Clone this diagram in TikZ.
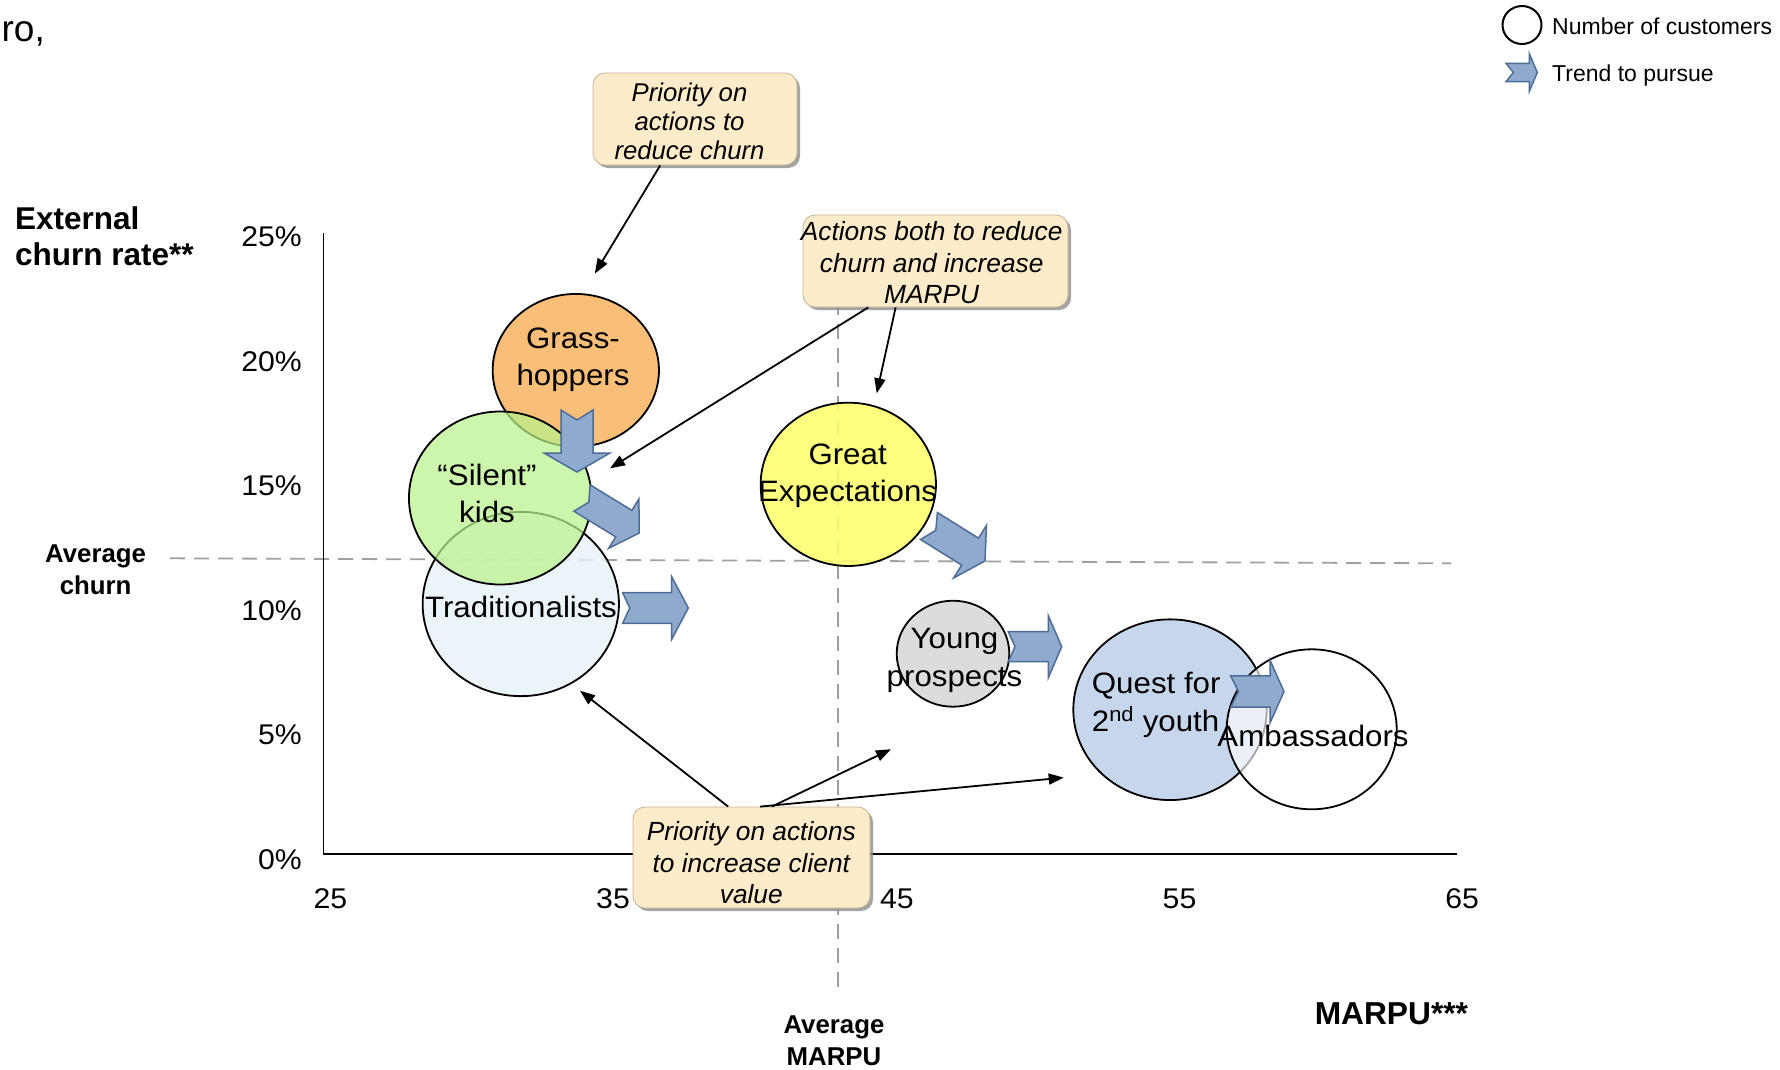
\documentclass[tikz,border=0pt]{standalone}
\usepackage{fontspec}
\setmainfont{Liberation Sans}
\newfontfamily\widesf{Liberation Sans}[FakeStretch=1.06]
\usetikzlibrary{arrows.meta,shapes.geometric,shadows,calc}

\definecolor{ghfill}{RGB}{249,190,120}
\definecolor{skfill}{RGB}{185,242,140}
\definecolor{trfill}{RGB}{232,242,248}
\definecolor{gefill}{RGB}{255,255,105}
\definecolor{ypfill}{RGB}{220,220,220}
\definecolor{qufill}{RGB}{198,214,236}
\definecolor{trendfill}{RGB}{143,170,204}
\definecolor{trendline}{RGB}{78,108,152}
\definecolor{calloutfill}{RGB}{253,235,202}
\definecolor{calloutline}{RGB}{196,178,150}
\definecolor{avggray}{RGB}{160,160,160}

\tikzset{
  bubble/.style={ellipse, draw=black, line width=1.8pt, inner sep=0pt},
  bubtext/.style={inner sep=0pt, align=center, anchor=base,
    font=\widesf\fontsize{29.5}{37.5}\selectfont},
  trendshape/.style={fill=trendfill, draw=trendline, line width=1.5pt},
  callout/.style={rounded corners=12pt, fill=calloutfill, draw=calloutline,
    line width=0.8pt, inner sep=0pt,
    drop shadow={shadow xshift=3pt, shadow yshift=-3pt, fill=black!45, opacity=0.8}},
  callouttext/.style={inner sep=0pt, align=center, anchor=base,
    font=\itshape\fontsize{26.3}{31.3}\selectfont},
  pointer/.style={line width=1.8pt, -{Triangle[length=15pt,width=11pt]}},
  avgline/.style={draw=avggray, line width=1.8pt, dash pattern=on 15pt off 9pt},
  axisline/.style={draw=black, line width=1.6pt},
  ticklabel/.style={inner sep=0pt, font=\widesf\fontsize{28.5}{34}\selectfont},
  axlabel/.style={inner sep=0pt, align=center, anchor=base,
    font=\bfseries\fontsize{25.8}{31.6}\selectfont},
  legendtext/.style={inner sep=0pt, anchor=base west,
    font=\fontsize{23}{28}\selectfont},
}

% notched block arrow: tail centre x, y, angle, length, head length,
% body half width, head half width, notch depth
\newcommand{\trendarrow}[8]{%
  \draw[trendshape, shift={(#1,#2)}, rotate=#3]
    (0,#6) -- ({#4-#5},#6) -- ({#4-#5},#7) -- (#4,0) -- ({#4-#5},-#7)
    -- ({#4-#5},-#6) -- (0,-#6) -- (#8,0) -- cycle;}

\begin{document}
\begin{tikzpicture}[x=1pt,y=-1pt]
\useasboundingbox (0,0) rectangle (1780,1069);

% clipped heading fragment
\node[inner sep=0pt, anchor=base east, font=\fontsize{37}{42}\selectfont] (head) at (45,41.7) {ro,};

% average lines
\coordinate (hl0) at (170,558.3);
\coordinate (hl1) at (1451,563.3);
\draw[avgline] (hl0) -- (hl1);
\coordinate (vl0) at (838,300);
\coordinate (vl1) at (838,988);
\draw[avgline] (vl0) -- (vl1);

% axes
\coordinate (O) at (323.5,853.7);
\coordinate (ytop) at (323.5,233);
\coordinate (xend) at (1456.5,853.7);
\draw[axisline] (ytop) -- (O) -- (xend);

\foreach \v/\b in {25/246.7,20/371.2,15/495.7,10/620.2,5/744.7,0/869.2}
  \node[ticklabel, anchor=base east] (y\v) at (302,\b) {\v\%};
\foreach \v/\x in {25/330.3,35/613,45/896.8,55/1179.5,65/1462.1}
  \node[ticklabel, anchor=base] (x\v) at (\x,908) {\v};

% axis titles (multi-line nodes are placed by their last baseline)
\node[inner sep=0pt, anchor=base west, align=left,
      font=\bfseries\fontsize{31.5}{35.7}\selectfont] (ylab) at (15,265) {External\\churn rate**};
\node[axlabel] (avgc) at (95.6,594.3) {Average\\churn};
\node[axlabel, font=\bfseries\fontsize{25.8}{32.5}\selectfont] (avgm) at (834,1065.5) {Average\\MARPU};
\node[inner sep=0pt, anchor=base west,
      font=\bfseries\fontsize{31.7}{36}\selectfont] (xlab) at (1314.6,1024) {MARPU***};

% segment bubbles
\node[bubble, fill=ghfill, minimum width=166.3pt, minimum height=152.7pt] (gh) at (575.8,370.3) {};
\node[bubble, fill=trfill, fill opacity=0.85, minimum width=196.3pt, minimum height=184.3pt] (tr) at (520.8,604) {};
\node[bubble, fill=skfill, fill opacity=0.72, minimum width=182.5pt, minimum height=173pt] (sk) at (500.2,498) {};
\node[bubble, fill=gefill, fill opacity=0.85, minimum width=175.3pt, minimum height=163.3pt] (ge) at (848.3,484.3) {};
\node[bubble, fill=ypfill, minimum width=112.6pt, minimum height=106pt] (yp) at (953,653.7) {};
\node[bubble, fill=qufill, minimum width=193.4pt, minimum height=180.7pt] (qu) at (1170,709.7) {};
\node[bubble, fill=white, fill opacity=0.65, minimum width=170pt, minimum height=160pt] (am) at (1311.7,729.3) {};

\node[bubtext] (ghl) at (573,385.8) {Grass-\\hoppers};
\node[bubtext] (skl) at (487,522.7) {“Silent”\\kids};
\node[bubtext] (trl) at (521,617.3) {Traditionalists};
\node[bubtext] (gel) at (847.6,501.7) {Great\\Expectations};
\node[bubtext] (ypl) at (954.5,686) {Young\\prospects};
\node[bubtext, anchor=base west, align=left] (qul) at (1091.7,731) {Quest for\\2\textsuperscript{nd} youth};
\node[bubtext] (aml) at (1313,746.7) {Ambassadors};

% trends
\trendarrow{577}{410}{-90}{62}{19}{16}{33}{10}
\trendarrow{582}{498}{-31.5}{67}{18}{15.5}{29}{8}
\trendarrow{622.7}{608}{0}{65.6}{16.6}{15.3}{31.3}{7}
\trendarrow{929}{526}{-32}{66}{17.6}{15.9}{31}{8}
\trendarrow{1008.3}{646.7}{0}{53.4}{13.4}{15}{31}{6.7}
\trendarrow{1230.7}{691.5}{0}{53.3}{14}{15.7}{31.3}{7.7}

% call-outs
\node[callout, minimum width=204pt, minimum height=92pt] (c1) at (695,119) {};
\node[callouttext, font=\itshape\fontsize{25.7}{29}\selectfont] (c1t) at (689.5,159.7) {Priority on\\actions to\\reduce churn};
\node[callout, minimum width=265pt, minimum height=92pt] (c2) at (935.5,261) {};
\node[callouttext] (c2t) at (931.7,303.3) {Actions both to reduce\\churn and increase\\MARPU};
\node[callout, minimum width=237pt, minimum height=101pt] (c3) at (751.5,857.5) {};
\node[callouttext] (c3t) at (751.3,903.3) {Priority on actions\\to increase client\\value};

\coordinate (p1) at (594.8,273.6);
\coordinate (p2) at (610,468.3);
\coordinate (p3) at (876.7,393.3);
\coordinate (p4) at (580,690.7);
\coordinate (p5) at (891,749.2);
\coordinate (p6) at (1063.7,777.6);
\draw[pointer] ($(c1.south west)!0.33!(c1.south east)$) -- (p1);
\draw[pointer] ($(c2.south west)!0.247!(c2.south east)$) -- (p2);
\draw[pointer] ($(c2.south west)!0.35!(c2.south east)$) -- (p3);
\draw[pointer] ($(c3.north west)!0.402!(c3.north east)$) -- (p4);
\draw[pointer] ($(c3.north west)!0.585!(c3.north east)$) -- (p5);
\draw[pointer] ($(c3.north west)!0.536!(c3.north east)$) -- (p6);

% legend
\node[bubble, line width=2pt, minimum width=39pt, minimum height=38pt] (lgc) at (1522,25) {};
\node[legendtext] (lgct) at (1552,34.3) {Number of customers};
\trendarrow{1506}{72.5}{0}{31.3}{8}{9.2}{18.7}{7.3}
\node[legendtext] (lgat) at (1552,81.5) {Trend to pursue};
\end{tikzpicture}
\end{document}
